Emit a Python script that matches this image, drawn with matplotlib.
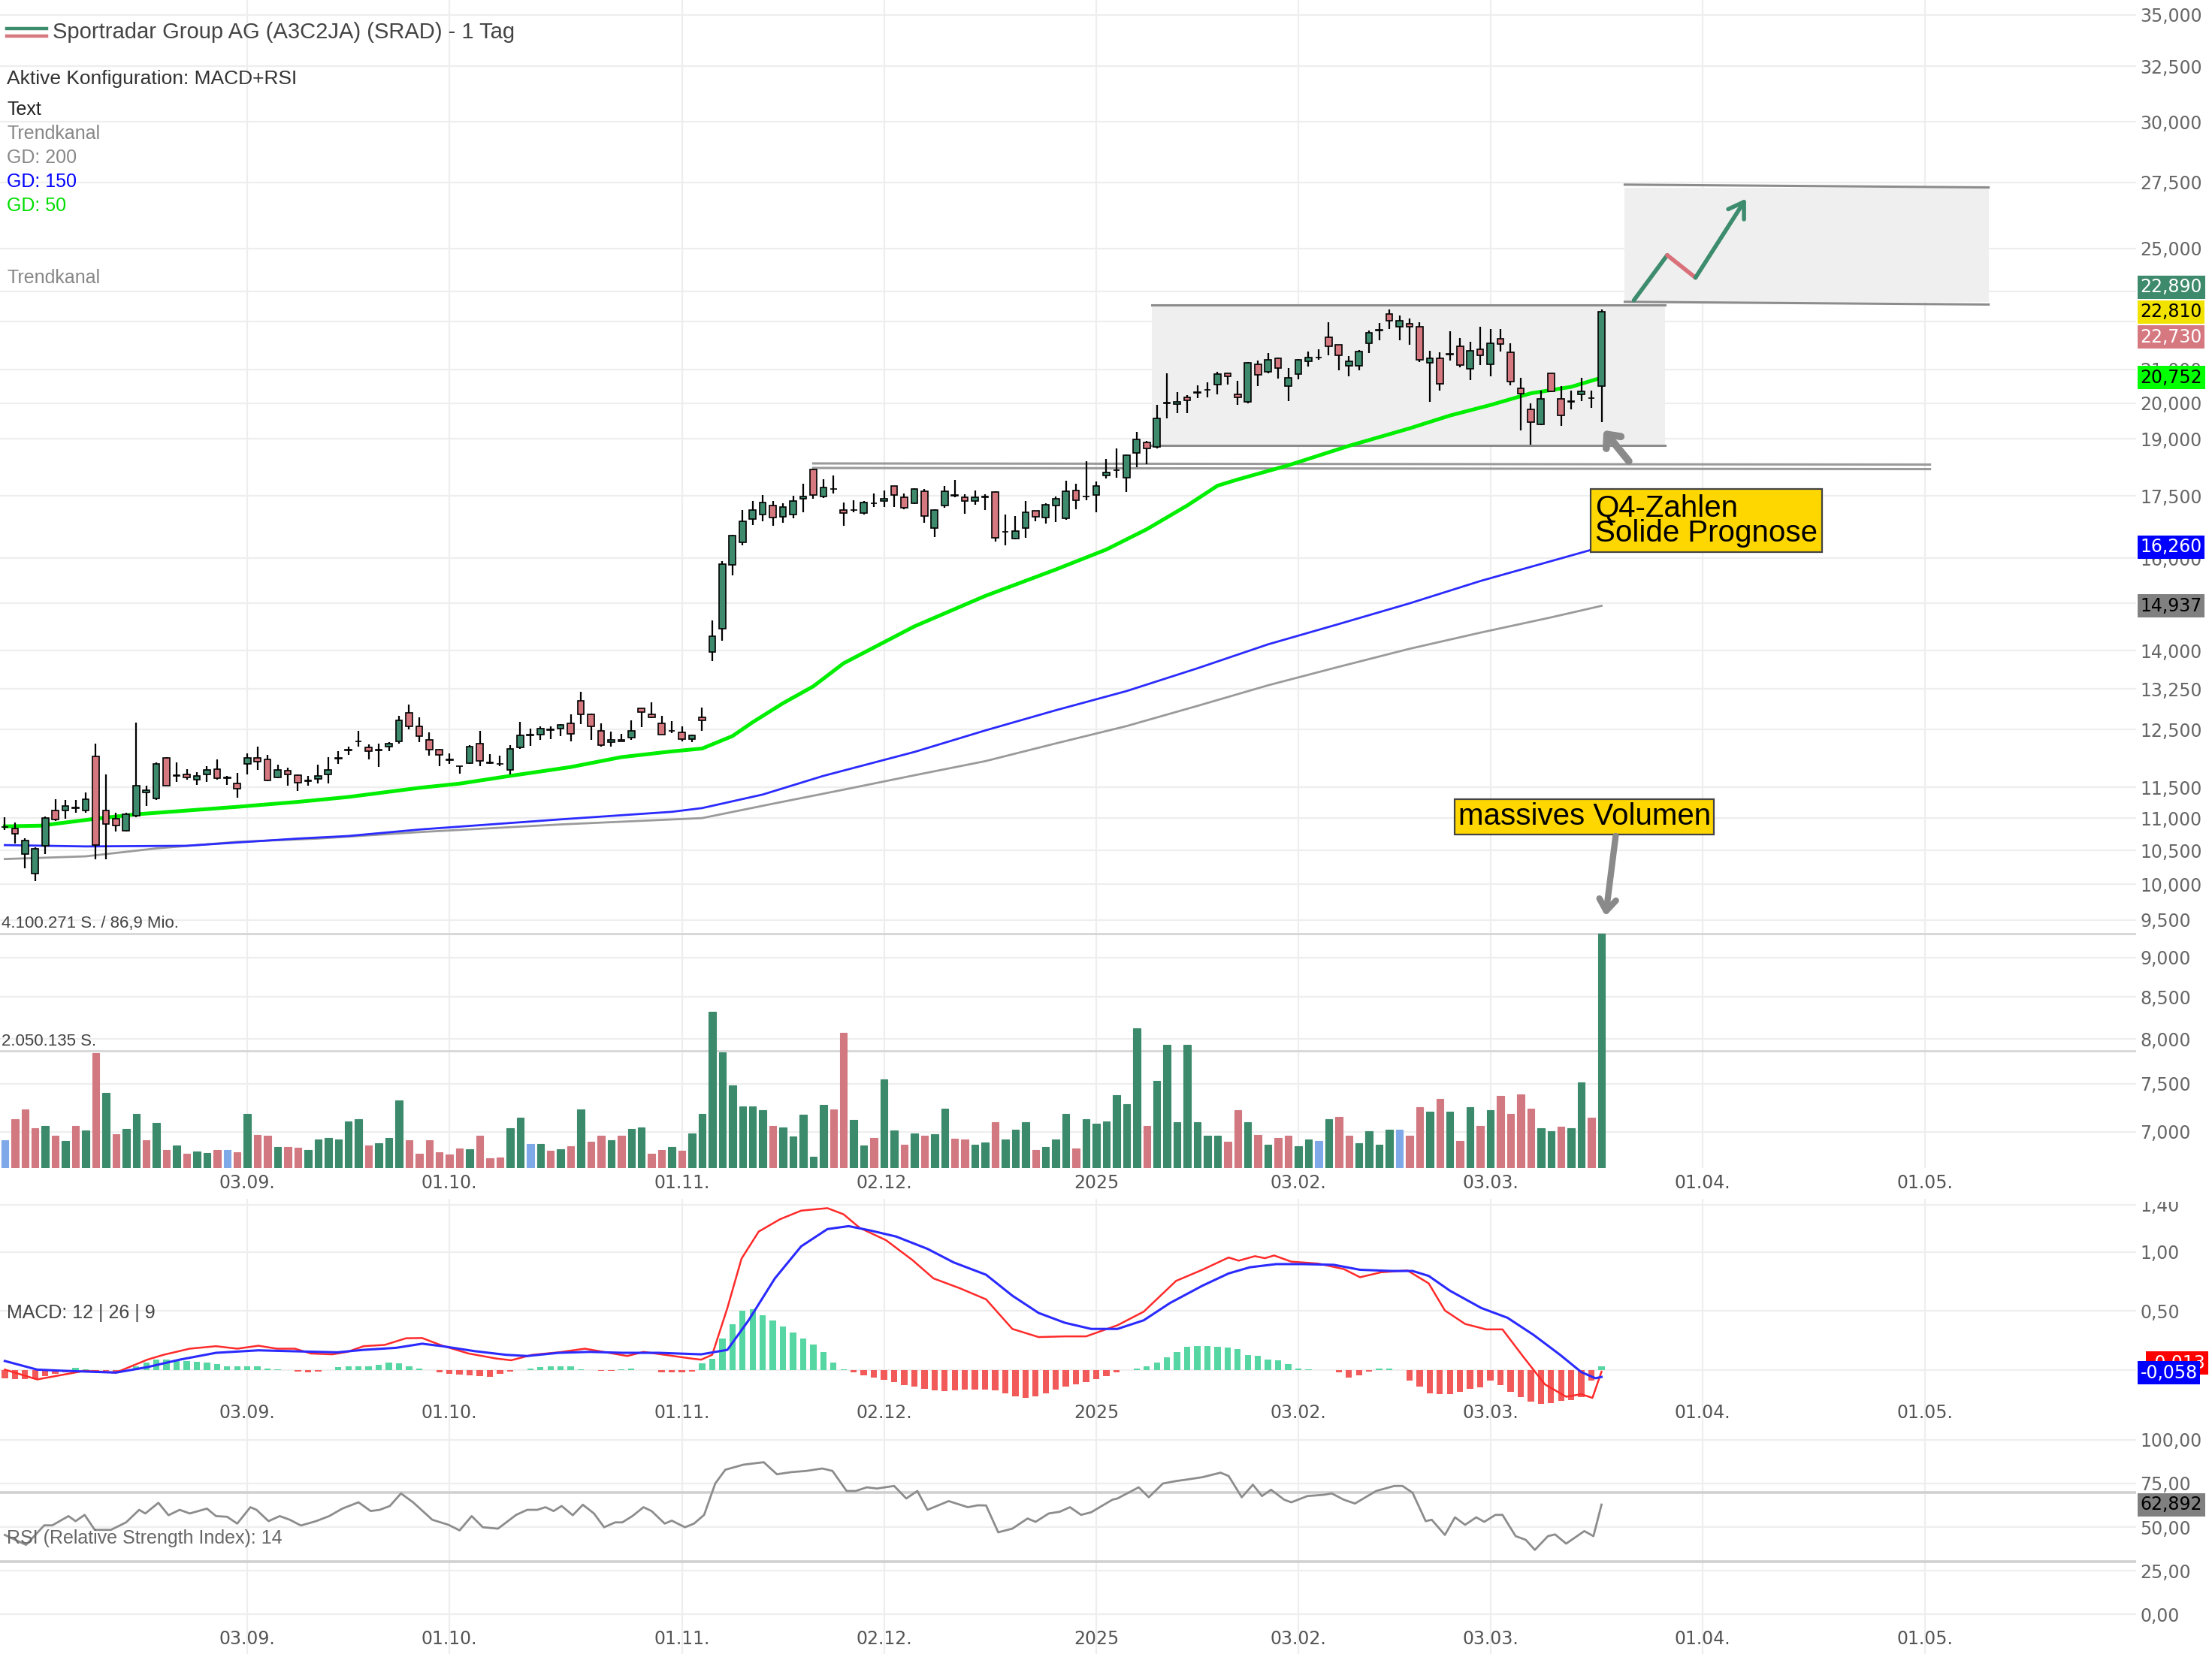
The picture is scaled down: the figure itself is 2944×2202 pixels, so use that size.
import numpy as np
import matplotlib
matplotlib.use("Agg")
import matplotlib.pyplot as plt
from matplotlib.patches import Rectangle
from matplotlib.lines import Line2D
from matplotlib.ticker import NullLocator
from matplotlib.transforms import blended_transform_factory

plt.rcParams["font.family"] = ["DejaVu Sans"]

# ---------------- daily candles (USD), bar 0 = early Aug 2024 ----------------
opens = [10.86, 10.84, 10.44, 10.16, 10.57, 11.12, 11.12, 11.17, 11.12, 12.02,
         11.12, 10.99, 10.80, 11.04, 11.42, 11.31, 12.00, 11.69, 11.71, 11.62,
         11.71, 11.81, 11.66, 11.56, 11.89, 12.00, 11.97, 11.67, 11.78, 11.70,
         11.61, 11.64, 11.72, 11.99, 12.13, 12.28, 12.18, 12.14, 12.20, 12.28,
         12.80, 12.56, 12.31, 12.14, 11.97, 11.86, 11.91, 12.24, 11.91, 11.90,
         11.79, 12.18, 12.40, 12.40, 12.50, 12.51, 12.61, 13.02, 12.78, 12.47,
         12.27, 12.31, 12.35, 12.89, 12.78, 12.61, 12.47, 12.45, 12.33, 12.72,
         13.97, 14.45, 15.85, 16.37, 16.93, 17.04, 17.26, 16.98, 17.04, 17.43,
         18.18, 17.48, 17.68, 17.15, 17.15, 17.07, 17.31, 17.38, 17.75, 17.46,
         17.31, 17.61, 16.71, 17.26, 17.51, 17.46, 17.38, 17.46, 17.60, 16.62,
         16.45, 16.71, 17.13, 16.96, 17.26, 16.94, 17.64, 17.48, 17.53, 18.02,
         18.16, 17.96, 18.62, 18.90, 18.79, 20.00, 19.98, 20.17, 20.31, 20.39,
         20.54, 20.89, 20.26, 20.04, 21.15, 20.93, 21.35, 20.51, 20.86, 21.25,
         21.36, 21.99, 21.75, 21.11, 21.10, 21.80, 22.22, 22.76, 22.33, 22.43,
         22.33, 21.21, 21.35, 21.45, 21.72, 21.02, 21.62, 21.15, 21.95, 21.52,
         20.44, 19.82, 19.40, 20.89, 20.12, 20.05, 20.26, 20.16, 20.51]
highs = [11.01, 10.93, 10.68, 10.55, 11.03, 11.30, 11.29, 11.29, 11.42, 12.25,
         11.72, 11.09, 11.08, 12.62, 11.52, 11.92, 12.01, 11.92, 11.81, 11.75,
         11.86, 11.97, 11.69, 11.74, 12.07, 12.20, 12.05, 11.88, 11.83, 11.71,
         11.69, 11.88, 12.01, 12.12, 12.20, 12.47, 12.23, 12.25, 12.27, 12.75,
         12.96, 12.72, 12.45, 12.16, 12.07, 11.86, 12.22, 12.47, 12.06, 12.03,
         12.22, 12.64, 12.52, 12.56, 12.56, 12.60, 12.77, 13.19, 12.79, 12.61,
         12.46, 12.42, 12.66, 12.89, 13.00, 12.75, 12.65, 12.56, 12.40, 12.90,
         14.62, 15.94, 16.55, 17.15, 17.38, 17.52, 17.38, 17.31, 17.51, 17.82,
         18.21, 17.92, 18.03, 17.33, 17.40, 17.37, 17.56, 17.64, 17.76, 17.56,
         17.70, 17.67, 17.16, 17.76, 17.91, 17.54, 17.64, 17.54, 17.62, 17.04,
         17.00, 17.37, 17.13, 17.32, 17.48, 17.89, 17.81, 18.39, 17.87, 18.45,
         18.75, 18.58, 19.19, 18.94, 19.96, 20.88, 20.33, 20.23, 20.52, 20.61,
         20.92, 20.89, 20.66, 21.22, 21.26, 21.50, 21.36, 21.04, 21.32, 21.56,
         21.62, 22.47, 21.77, 21.41, 21.59, 22.21, 22.45, 22.90, 22.69, 22.60,
         22.49, 21.58, 21.52, 22.18, 21.98, 21.85, 22.33, 22.25, 22.27, 21.80,
         20.75, 20.00, 20.37, 20.89, 20.51, 20.37, 20.75, 20.38, 22.89]
lows = [10.81, 10.60, 10.23, 10.05, 10.45, 10.95, 10.99, 11.08, 11.09, 10.37,
        10.37, 10.79, 10.79, 11.01, 11.20, 11.29, 11.52, 11.59, 11.62, 11.54,
        11.59, 11.62, 11.54, 11.33, 11.72, 11.79, 11.60, 11.65, 11.52, 11.44,
        11.52, 11.56, 11.56, 11.89, 12.05, 12.20, 11.97, 11.84, 12.12, 12.25,
        12.50, 12.27, 12.03, 11.85, 11.90, 11.73, 11.90, 11.85, 11.90, 11.85,
        11.72, 12.16, 12.21, 12.31, 12.33, 12.38, 12.29, 12.60, 12.31, 12.20,
        12.19, 12.28, 12.31, 12.54, 12.70, 12.40, 12.43, 12.29, 12.27, 12.47,
        13.80, 14.20, 15.60, 16.29, 16.78, 16.88, 16.76, 16.83, 16.95, 17.10,
        17.43, 17.45, 17.56, 16.76, 17.09, 17.04, 17.23, 17.23, 17.23, 17.17,
        17.29, 16.83, 16.50, 17.21, 17.47, 17.05, 17.28, 17.14, 16.38, 16.29,
        16.44, 16.47, 16.87, 16.82, 16.86, 16.91, 17.16, 17.39, 17.09, 17.94,
        17.96, 17.60, 18.25, 18.32, 18.75, 19.58, 19.71, 19.71, 20.16, 20.17,
        20.27, 20.55, 19.95, 20.00, 20.51, 20.89, 20.73, 20.07, 20.71, 21.08,
        21.29, 21.44, 20.97, 20.80, 20.97, 21.50, 21.91, 22.27, 21.91, 21.75,
        21.23, 20.04, 20.38, 21.26, 21.07, 20.68, 21.13, 20.80, 21.55, 20.52,
        19.24, 18.85, 19.37, 20.33, 19.35, 19.82, 20.06, 19.86, 19.47]
closes = [10.86, 10.75, 10.65, 10.52, 11.00, 10.98, 11.20, 11.16, 11.30, 10.58,
          10.91, 10.88, 11.06, 11.52, 11.45, 11.90, 11.53, 11.70, 11.66, 11.69,
          11.79, 11.65, 11.65, 11.47, 12.00, 11.93, 11.61, 11.79, 11.72, 11.57,
          11.60, 11.69, 11.79, 12.00, 12.14, 12.29, 12.12, 12.13, 12.25, 12.66,
          12.56, 12.38, 12.14, 12.05, 11.96, 11.85, 12.20, 11.94, 11.91, 11.89,
          12.16, 12.39, 12.39, 12.51, 12.49, 12.58, 12.42, 12.78, 12.56, 12.22,
          12.31, 12.29, 12.47, 12.81, 12.72, 12.41, 12.47, 12.33, 12.39, 12.66,
          14.30, 15.86, 16.52, 16.88, 17.14, 17.34, 16.96, 17.23, 17.38, 17.49,
          17.52, 17.71, 17.68, 17.07, 17.15, 17.33, 17.31, 17.42, 17.53, 17.20,
          17.68, 17.00, 17.15, 17.61, 17.51, 17.37, 17.46, 17.48, 16.48, 16.62,
          16.64, 17.09, 16.98, 17.27, 17.42, 17.61, 17.39, 17.48, 17.76, 18.10,
          18.17, 18.55, 18.99, 18.75, 19.57, 20.01, 20.05, 20.09, 20.31, 20.39,
          20.87, 20.80, 20.17, 21.21, 20.84, 21.29, 21.04, 20.74, 21.29, 21.36,
          21.36, 21.72, 21.43, 21.25, 21.56, 22.15, 22.23, 22.53, 22.53, 22.33,
          21.29, 21.35, 20.57, 21.47, 21.13, 21.58, 21.44, 21.81, 21.78, 20.63,
          20.29, 19.47, 20.13, 20.35, 19.66, 20.07, 20.34, 20.14, 22.81]

# volume in million shares
volumes = [0.49, 0.85, 1.03, 0.69, 0.74, 0.56, 0.47, 0.74, 0.66, 2.01,
           1.32, 0.59, 0.68, 0.94, 0.48, 0.79, 0.32, 0.39, 0.25, 0.29,
           0.26, 0.32, 0.32, 0.28, 0.94, 0.58, 0.56, 0.37, 0.37, 0.36,
           0.31, 0.50, 0.53, 0.50, 0.82, 0.85, 0.39, 0.43, 0.53, 1.18,
           0.49, 0.25, 0.48, 0.27, 0.24, 0.34, 0.33, 0.56, 0.17, 0.18,
           0.70, 0.88, 0.42, 0.42, 0.30, 0.33, 0.38, 1.03, 0.46, 0.56,
           0.48, 0.56, 0.68, 0.71, 0.25, 0.31, 0.37, 0.30, 0.60, 0.94,
           2.74, 2.03, 1.45, 1.08, 1.08, 1.01, 0.74, 0.71, 0.55, 0.93,
           0.20, 1.11, 1.02, 2.37, 0.84, 0.39, 0.53, 1.55, 0.66, 0.41,
           0.61, 0.56, 0.59, 1.04, 0.51, 0.50, 0.41, 0.45, 0.80, 0.50,
           0.67, 0.80, 0.31, 0.37, 0.50, 0.94, 0.34, 0.85, 0.77, 0.82,
           1.27, 1.12, 2.45, 0.74, 1.53, 2.16, 0.80, 2.16, 0.80, 0.56,
           0.56, 0.46, 1.01, 0.80, 0.58, 0.41, 0.53, 0.56, 0.38, 0.50,
           0.47, 0.85, 0.89, 0.57, 0.43, 0.64, 0.41, 0.67, 0.67, 0.57,
           1.07, 0.99, 1.21, 0.99, 0.47, 1.06, 0.74, 1.01, 1.26, 0.95,
           1.29, 1.04, 0.70, 0.64, 0.72, 0.69, 1.50, 0.88, 4.100271]
vol_max = 4.100271

# moving averages (GD 50 / 150 / 200)
gd50_x = [0, 3.5, 6, 9, 13, 18, 23, 29, 34, 41, 45, 50, 56, 61, 66, 69, 72, 74, 77, 80,
          83, 90, 97, 104, 109, 113, 117, 120, 122, 127, 133, 139, 143, 147, 151, 155, 158]
gd50 = [10.87, 10.88, 10.93, 10.99, 11.06, 11.12, 11.18, 11.26, 11.34, 11.49,
        11.56, 11.69, 11.84, 12.01, 12.11, 12.16, 12.38, 12.63, 12.98, 13.30,
        13.75, 14.50, 15.15, 15.74, 16.20, 16.68, 17.26, 17.76, 17.92, 18.29,
        18.81, 19.29, 19.65, 19.95, 20.29, 20.48, 20.752]
gd150_x = [0, 8, 18, 23, 29, 34, 41, 55, 66, 69, 75, 81, 90, 97, 104, 111, 118, 125,
           132, 139, 146, 153, 158]
gd150 = [10.58, 10.56, 10.57, 10.62, 10.68, 10.72, 10.82, 10.98, 11.10, 11.16, 11.38,
         11.69, 12.10, 12.48, 12.85, 13.21, 13.65, 14.13, 14.55, 14.99, 15.48, 15.93, 16.26]
gd200_x = [0, 8, 15, 23, 31, 41, 55, 69, 76, 83, 90, 97, 104, 111, 118, 125, 132, 139,
           146, 153, 158]
gd200 = [10.37, 10.41, 10.53, 10.63, 10.68, 10.78, 10.90, 11.00, 11.23, 11.46, 11.70,
         11.94, 12.25, 12.56, 12.93, 13.32, 13.68, 14.04, 14.37, 14.69, 14.937]

# MACD 12|26|9
macd_x = [0, 3.2, 7.9, 11.0, 14.1, 15.7, 18.3, 20.9, 23.0, 25.1,
          26.9, 28.7, 30.3, 32.4, 33.9, 35.5, 37.6, 39.7, 41.3, 43.3,
          45.9, 48.6, 50.1, 52.2, 54.8, 57.4, 59.5, 61.6, 63.2, 65.3,
          67.9, 68.9, 70.0, 71.5, 72.9, 74.6, 76.7, 78.8, 81.4, 83.0,
          84.6, 87.2, 89.8, 91.9, 94.5, 97.1, 99.7, 102.3, 104.9, 107.0,
          110.1, 112.7, 115.9, 118.5, 121.1, 122.1, 123.7, 124.7, 125.6, 127.3,
          130.0, 132.5, 134.1, 136.2, 138.8, 140.9, 142.5, 144.5, 146.6, 148.2,
          150.3, 152.4, 154.5, 156.0, 157.1, 158.0]
macd_line = [0.004, -0.079, -0.006, -0.021, 0.088, 0.129, 0.181, 0.202, 0.181, 0.206,
             0.181, 0.181, 0.140, 0.133, 0.154, 0.202, 0.213, 0.269, 0.271, 0.206,
             0.140, 0.098, 0.083, 0.129, 0.150, 0.181, 0.150, 0.119, 0.154, 0.129,
             0.098, 0.088, 0.129, 0.525, 0.942, 1.171, 1.275, 1.348, 1.369, 1.317,
             1.202, 1.098, 0.931, 0.775, 0.692, 0.598, 0.348, 0.279, 0.285, 0.285,
             0.379, 0.494, 0.754, 0.848, 0.952, 0.925, 0.963, 0.946, 0.969, 0.917,
             0.900, 0.854, 0.785, 0.827, 0.842, 0.733, 0.504, 0.390, 0.344, 0.344,
             0.108, -0.121, -0.225, -0.204, -0.235, -0.013]
signal_x = [0, 3.2, 5.8, 11.0, 14.1, 17.3, 20.9, 25.1, 28.2, 32.9,
            35.5, 38.7, 41.3, 43.3, 46.5, 49.6, 51.7, 54.8, 57.9, 61.1,
            64.7, 68.9, 71.5, 73.6, 76.2, 78.8, 81.4, 83.5, 85.6, 88.2,
            91.3, 93.9, 97.1, 99.7, 102.3, 104.9, 107.5, 110.1, 112.7, 115.3,
            118.5, 121.1, 123.2, 125.8, 128.4, 131.5, 134.1, 137.2, 139.3, 140.9,
            143.0, 146.1, 148.7, 151.3, 153.9, 156.0, 157.4, 158.0]
signal_line = [0.077, 0.004, -0.006, -0.021, 0.025, 0.088, 0.146, 0.167, 0.160, 0.150,
               0.171, 0.188, 0.223, 0.202, 0.160, 0.129, 0.119, 0.146, 0.154, 0.146,
               0.146, 0.133, 0.171, 0.421, 0.775, 1.046, 1.192, 1.217, 1.181, 1.129,
               1.025, 0.910, 0.806, 0.629, 0.483, 0.400, 0.348, 0.348, 0.421, 0.567,
               0.713, 0.817, 0.869, 0.896, 0.896, 0.890, 0.848, 0.838, 0.838, 0.796,
               0.671, 0.525, 0.442, 0.296, 0.129, -0.017, -0.069, -0.058]
macd_hist = [-0.069, -0.075, -0.079, -0.075, -0.048, -0.033, -0.021, 0.021, 0.004, -0.006,
             -0.006, -0.021, -0.012, 0.035, 0.063, 0.088, 0.088, 0.088, 0.077, 0.071,
             0.063, 0.050, 0.035, 0.029, 0.035, 0.035, 0.015, 0.008, 0.0, -0.012,
             -0.021, -0.012, 0.0, 0.025, 0.035, 0.035, 0.035, 0.046, 0.063, 0.056,
             0.035, 0.015, 0.0, -0.021, -0.033, -0.038, -0.042, -0.048, -0.058, -0.033,
             -0.012, 0.0, 0.015, 0.025, 0.035, 0.035, 0.029, 0.008, 0.0, -0.006,
             -0.006, 0.008, 0.010, 0.0, 0.0, -0.017, -0.021, -0.021, -0.012, 0.056,
             0.098, 0.265, 0.390, 0.504, 0.515, 0.463, 0.421, 0.369, 0.317, 0.265,
             0.213, 0.150, 0.063, 0.004, -0.021, -0.042, -0.063, -0.083, -0.104, -0.125,
             -0.138, -0.158, -0.173, -0.179, -0.173, -0.167, -0.167, -0.167, -0.173, -0.194,
             -0.225, -0.235, -0.225, -0.194, -0.163, -0.142, -0.121, -0.100, -0.075, -0.048,
             -0.021, 0.0, 0.015, 0.035, 0.063, 0.108, 0.150, 0.196, 0.206, 0.202,
             0.196, 0.192, 0.175, 0.129, 0.119, 0.092, 0.083, 0.050, 0.015, 0.008,
             0.0, 0.0, -0.021, -0.063, -0.042, -0.012, 0.010, 0.012, 0.0, -0.090,
             -0.142, -0.194, -0.204, -0.200, -0.183, -0.158, -0.146, -0.090, -0.125, -0.183,
             -0.229, -0.267, -0.288, -0.277, -0.263, -0.256, -0.229, -0.090, 0.035]

# RSI 14
rsi_x = [0, 2.1, 3.9, 4.7, 6.3, 7.0, 7.9, 8.9, 10.5, 12.0,
         13.3, 13.9, 15.2, 16.2, 17.3, 18.3, 20.0, 20.9, 22.0, 23.0,
         24.3, 24.9, 26.1, 27.2, 28.2, 29.3, 30.8, 32.1, 33.4, 35.0,
         36.2, 37.1, 38.1, 39.2, 40.4, 42.3, 43.9, 45.0, 46.2, 47.3,
         48.8, 50.6, 51.7, 52.7, 53.5, 54.3, 55.1, 56.2, 57.2, 58.3,
         59.3, 60.4, 61.1, 62.1, 63.2, 64.0, 65.3, 66.0, 67.3, 68.2,
         69.2, 70.3, 71.3, 73.1, 74.1, 75.1, 76.4, 77.8, 79.3, 80.9,
         81.9, 83.3, 84.2, 85.3, 86.3, 88.0, 89.2, 90.3, 91.3, 93.4,
         95.3, 96.3, 97.1, 98.3, 99.7, 101.2, 102.0, 103.3, 104.4, 105.4,
         106.5, 107.5, 109.6, 110.1, 112.2, 113.2, 114.6, 115.9, 116.9, 118.5,
         120.3, 121.1, 122.4, 123.5, 124.4, 125.3, 126.6, 127.3, 128.9, 130.5,
         131.3, 132.5, 133.6, 135.7, 137.5, 138.3, 139.3, 140.6, 141.2, 142.5,
         143.5, 144.5, 145.6, 146.4, 147.5, 148.2, 149.5, 150.5, 151.4, 152.7,
         153.4, 154.5, 156.3, 157.2, 158.0]
rsi_line = [45.5, 39.8, 51.0, 51.0, 56.3, 53.4, 57.0, 48.4, 48.4, 52.7,
            59.9, 57.8, 63.9, 56.8, 59.9, 57.8, 60.6, 56.3, 55.9, 52.0,
            61.4, 59.9, 53.4, 56.3, 54.2, 50.9, 53.4, 56.3, 60.6, 64.2,
            59.2, 59.9, 62.1, 69.3, 64.2, 54.2, 51.3, 48.1, 56.3, 49.9,
            49.1, 57.0, 59.9, 59.9, 61.4, 59.2, 62.1, 56.8, 62.8, 57.8,
            49.9, 52.7, 52.7, 56.3, 61.4, 59.2, 52.0, 53.7, 49.9, 52.0,
            57.0, 75.0, 82.9, 85.8, 86.5, 87.2, 80.3, 81.5, 82.2, 83.6,
            82.2, 70.7, 70.7, 72.8, 72.1, 73.6, 66.4, 70.7, 59.9, 64.9,
            61.4, 62.5, 62.4, 47.0, 49.1, 54.9, 53.0, 57.8, 58.8, 61.4,
            57.0, 58.5, 65.7, 66.4, 72.8, 67.1, 75.0, 76.4, 77.2, 78.6,
            81.2, 79.3, 67.1, 74.3, 67.8, 71.4, 65.7, 64.2, 67.8, 68.5,
            69.3, 65.7, 63.5, 70.7, 73.6, 73.6, 69.7, 53.4, 54.2, 45.5,
            55.6, 51.3, 55.6, 53.0, 57.0, 57.0, 44.8, 42.7, 36.9, 44.8,
            45.8, 40.5, 47.7, 44.8, 62.9]

# axes labels
date_pos = [24, 44, 67, 87, 108, 128, 147, 168, 190]
date_labels = ["03.09.", "01.10.", "01.11.", "02.12.", "2025", "03.02.", "03.03.", "01.04.", "01.05."]
price_ticks = [7, 7.5, 8, 8.5, 9, 9.5, 10, 10.5, 11, 11.5, 12.5, 13.25, 14, 15, 16,
               17.5, 19, 20, 21, 22.5, 23.5, 25, 27.5, 30, 32.5, 35]
price_hidden = [15, 22.5, 23.5]   # labels covered by the value boxes in the original
macd_ticks = [0.0, 0.5, 1.0, 1.4]
rsi_ticks = [0, 25, 50, 75, 100]

# drawings (trend channel, target box, arrows)
support_x = [80, 190.5]
support_hi = [18.34, 18.31]
support_lo = [18.22, 18.19]
range_x = [113.5, 164.3]
range_y = [18.82, 23.05]
target_x = [160.3, 196.3]
target_top = [27.41, 27.30]
target_bot = [23.15, 23.06]
zigzag_x = [161.2, 164.5, 167.3, 172.3]
zigzag_y = [23.2, 24.76, 23.97, 26.86]

last_quotes = [22.890, 22.810, 22.730]
gd_last = [20.752, 16.260, 14.937]
macd_last = -0.013
signal_last = -0.058
rsi_last = 62.892

# ---------------- figure ----------------
W, H, DPI = 2944, 2202, 200
fig = plt.figure(figsize=(W / DPI, H / DPI), dpi=DPI)
fig.patch.set_facecolor("white")

RIGHT = 2843


def panel(top_px, bottom_px):
    return [0, 1 - bottom_px / H, RIGHT / W, (bottom_px - top_px) / H]


def fpos(px, py):
    return px / W, 1 - py / H


def de(v, nd):
    return f"{v:.{nd}f}".replace(".", ",")


ax = fig.add_axes(panel(0, 1555))
axv = fig.add_axes(panel(0, 1555), sharex=ax)
axm = fig.add_axes(panel(1596, 1897), sharex=ax)
axr = fig.add_axes(panel(1897, 2202), sharex=ax)

GRID = "#eeeeee"
C_UP, C_DN = "#3d8a6c", "#d6787f"
V_UP, V_DN, V_EQ = "#3b8a6b", "#d27880", "#7fa8e8"
TXT = "Liberation Sans"

for a in (ax, axv, axm, axr):
    for s in a.spines.values():
        s.set_visible(False)

ax.set_xlim(-0.476, (RIGHT - 6.4) / 13.45)

# ---- price panel ----
ax.set_yscale("log")
ax.set_ylim(6.643, 35.766)
ax.set_yticks(price_ticks)
ax.yaxis.set_minor_locator(NullLocator())
ax.set_yticklabels(["" if v in price_hidden else de(v, 3) for v in price_ticks])
ax.yaxis.tick_right()
ax.tick_params(axis="y", length=0, pad=2, labelsize=8.5, labelcolor="#666666")
ax.set_xticks(date_pos)
ax.set_xticklabels(date_labels)
ax.tick_params(axis="x", length=0, pad=3, labelsize=8.5, labelcolor="#555555")
ax.grid(True, color=GRID, lw=0.8)
ax.set_axisbelow(True)

x = np.arange(len(closes))
o, h, l, c = (np.array(v) for v in (opens, highs, lows, closes))

# trend channel drawings
ax.add_patch(Rectangle((range_x[0], range_y[0]), range_x[1] - range_x[0], range_y[1] - range_y[0],
                       facecolor="#efefef", edgecolor="none", zorder=1))
ax.add_patch(Rectangle((target_x[0], target_bot[0]), target_x[1] - target_x[0],
                       target_top[1] - target_bot[0], facecolor="#efefef", edgecolor="none", zorder=1))
ax.plot(range_x, [range_y[0]] * 2, color="#8c8c8c", lw=1.1, zorder=2)
ax.plot(range_x, [range_y[1]] * 2, color="#8c8c8c", lw=1.1, zorder=2)
ax.plot(target_x, target_top, color="#8c8c8c", lw=1.1, zorder=2)
ax.plot(target_x, target_bot, color="#8c8c8c", lw=1.1, zorder=2)
ax.plot(support_x, support_hi, color="#9a9a9a", lw=1.1, zorder=2)
ax.plot(support_x, support_lo, color="#9a9a9a", lw=1.1, zorder=2)

ax.plot(gd200_x, gd200, color="#9a9a9a", lw=1.0, zorder=2.5)
ax.plot(gd150_x, gd150, color="#2a2aff", lw=1.0, zorder=2.5)
ax.plot(gd50_x, gd50, color="#00ee00", lw=1.8, zorder=2.6)

ax.vlines(x, l, h, color="black", lw=0.8, zorder=3)
ax.bar(x, np.maximum(np.abs(c - o), 0.005), bottom=np.minimum(o, c), width=0.64,
       color=np.where(c >= o, C_UP, C_DN), edgecolor="black", linewidth=0.6, zorder=4)

# zigzag target arrow
ax.plot(zigzag_x[:2], zigzag_y[:2], color="#3d8c6e", lw=2.0, zorder=6, solid_capstyle="round")
ax.plot(zigzag_x[1:3], zigzag_y[1:3], color="#d9707a", lw=2.0, zorder=6, solid_capstyle="round")
ax.annotate("", xy=(zigzag_x[3], zigzag_y[3]), xytext=(zigzag_x[2], zigzag_y[2]), zorder=6,
            arrowprops=dict(arrowstyle="->,head_length=0.7,head_width=0.45", color="#3d8c6e",
                            lw=2.0, shrinkA=0, shrinkB=0))
# grey arrow at the last candle
ax.annotate("", xy=(158.2, 19.24), xytext=(160.7, 18.40), zorder=6,
            arrowprops=dict(arrowstyle="->,head_length=0.5,head_width=0.45", color="#8a8a8a",
                            lw=3.5, shrinkA=0, shrinkB=0))

ax.text(157.4, 17.56, "Q4-Zahlen\nSolide Prognose", family=TXT, fontsize=14.5, color="black",
        ha="left", va="top", linespacing=0.86, zorder=8,
        bbox=dict(boxstyle="square,pad=0.15", fc="#ffd700", ec="#444444", lw=0.8))
ax.text(143.8, 11.25, "massives Volumen", family=TXT, fontsize=14.5, color="black",
        ha="left", va="top", zorder=8,
        bbox=dict(boxstyle="square,pad=0.12", fc="#ffd700", ec="#444444", lw=0.8))
ax.annotate("", xy=(158.4, 9.55), xytext=(159.4, 10.72), zorder=8,
            arrowprops=dict(arrowstyle="->,head_length=0.55,head_width=0.4", color="#8a8a8a",
                            lw=3.0, shrinkA=0, shrinkB=0))

# ---- volume overlay ----
axv.set_zorder(ax.get_zorder() + 1)
axv.patch.set_visible(False)
axv.axis("off")
axv.set_ylim(0, vol_max * 1555 / 312)
prev = np.r_[np.nan, c[:-1]]
vcol = np.where(c > prev, V_UP, np.where(c < prev, V_DN, V_EQ))
axv.axhline(vol_max, color="#d6d6d6", lw=1.0, zorder=1)
axv.axhline(vol_max / 2, color="#d6d6d6", lw=1.0, zorder=1)
axv.bar(x, volumes, width=0.7, color=vcol, edgecolor=vcol, linewidth=0.4, zorder=2)


# ---- value boxes on the right ----
def value_box(a, yval, text, fc, tc, dy=0, dx=2):
    tr = blended_transform_factory(a.transAxes, a.transData)
    a.annotate(text, xy=(1.0, yval), xycoords=tr, xytext=(dx, dy), textcoords="offset points",
               ha="left", va="center", fontsize=8.5, color=tc, annotation_clip=False, zorder=20,
               bbox=dict(boxstyle="square,pad=0.15", fc=fc, ec="none"))


value_box(ax, last_quotes[1], de(last_quotes[0], 3), "#3d8a6c", "white", dy=12)
value_box(ax, last_quotes[1], de(last_quotes[1], 3), "#f2e200", "black")
value_box(ax, last_quotes[1], de(last_quotes[2], 3), "#d6787f", "white", dy=-12)
value_box(ax, gd_last[0], de(gd_last[0], 3), "#00ff00", "black")
value_box(ax, gd_last[1], de(gd_last[1], 3), "#0000ff", "white")
value_box(ax, gd_last[2], de(gd_last[2], 3), "#808080", "black")

# ---- MACD panel ----
axm.set_ylim(-0.4635, 1.448)
hist = np.array(macd_hist)
axm.bar(x, hist, width=0.62, color=np.where(hist >= 0, "#55d6a2", "#f25a5a"), linewidth=0, zorder=2)
axm.plot(macd_x, macd_line, color="#ff2a2a", lw=0.9, zorder=3)
axm.plot(signal_x, signal_line, color="#2a2aff", lw=1.1, zorder=3)
axm.set_yticks(macd_ticks)
axm.set_yticklabels(["" if v == 0 else de(v, 2) for v in macd_ticks])
axm.yaxis.tick_right()
axm.tick_params(axis="y", length=0, pad=2, labelsize=8.5, labelcolor="#666666")
axm.tick_params(axis="x", length=0, labelbottom=False)
axm.grid(True, color=GRID, lw=0.8)
axm.set_axisbelow(True)
value_box(axm, macd_last, de(macd_last, 3), "#ff0000", "white", dy=4, dx=6)
value_box(axm, signal_last, de(signal_last, 3), "#0000ff", "white", dy=2)

# ---- RSI panel ----
axr.set_ylim(-22.8, 108.6)
axr.axhline(70, color="#d0d0d0", lw=1.3, zorder=1)
axr.axhline(30, color="#d0d0d0", lw=1.3, zorder=1)
axr.plot(rsi_x, rsi_line, color="#8c8c8c", lw=1.0, zorder=3)
axr.set_yticks(rsi_ticks)
axr.set_yticklabels([de(v, 2) for v in rsi_ticks])
axr.yaxis.tick_right()
axr.tick_params(axis="y", length=0, pad=2, labelsize=8.5, labelcolor="#666666")
axr.tick_params(axis="x", length=0, labelbottom=False)
axr.grid(True, color=GRID, lw=0.8)
axr.set_axisbelow(True)
value_box(axr, rsi_last, de(rsi_last, 3), "#808080", "black")

for a, yf in ((axm, 0.053), (axr, 0.066)):
    tr = blended_transform_factory(a.transData, a.transAxes)
    for p, lab in zip(date_pos, date_labels):
        a.text(p, yf, lab, transform=tr, ha="center", va="center", fontsize=8.5, color="#555555")

# cut top of the "1,40" label like the original
fig.add_artist(Rectangle(fpos(RIGHT, 1600), (W - RIGHT) / W, 42 / H, transform=fig.transFigure,
                         facecolor="white", edgecolor="none", zorder=30))

# ---- header / legend texts ----
for yy, col in ((38, "#3d8c6e"), (48, "#d6787f")):
    fig.add_artist(Line2D([9 / W, 62 / W], [1 - yy / H] * 2, transform=fig.transFigure,
                          color=col, lw=1.6))
fig.text(*fpos(70, 43), "Sportradar Group AG (A3C2JA) (SRAD) - 1 Tag", family=TXT,
         fontsize=10.5, color="#444444", va="center")
legend_rows = [
    (105, "Aktive Konfiguration: MACD+RSI", "#333333", 9.5),
    (146, "Text", "#222222", 9),
    (178, "Trendkanal", "#888888", 9),
    (210, "GD: 200", "#888888", 9),
    (242, "GD: 150", "#0000ff", 9),
    (274, "GD: 50", "#00dd00", 9),
    (370, "Trendkanal", "#888888", 9),
]
for yy, label, col, fs in legend_rows:
    fig.text(*fpos(9, yy), label, family=TXT, fontsize=fs, color=col, va="center")

fig.text(*fpos(2, 1230), "4.100.271 S. / 86,9 Mio.", family=TXT, fontsize=8, color="#444444", va="center")
fig.text(*fpos(2, 1386), "2.050.135 S.", family=TXT, fontsize=8, color="#444444", va="center")
fig.text(*fpos(9, 1748), "MACD: 12 | 26 | 9", family=TXT, fontsize=9, color="#444444", va="center")
fig.text(*fpos(9, 2048), "RSI (Relative Strength Index): 14", family=TXT, fontsize=9,
         color="#666666", va="center")

fig.savefig("out.png", dpi=DPI, facecolor="white")
